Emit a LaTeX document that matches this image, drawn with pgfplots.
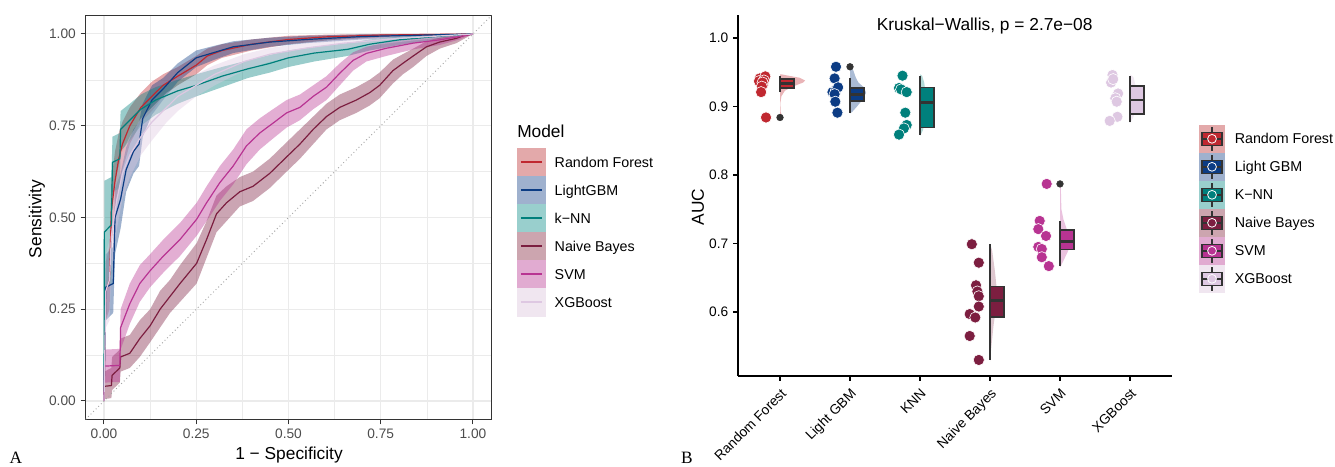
\documentclass[border=0pt]{standalone}
\usepackage{pgfplots}
\usepackage{pgfplotstable}
\pgfplotsset{compat=1.18}
\usepgfplotslibrary{fillbetween}
\usepackage{fontspec}
\setmainfont{Liberation Sans}
\newfontfamily\serifA{Liberation Serif}

\definecolor{rfC}{RGB}{192,40,48}
\definecolor{lgC}{RGB}{12,60,132}
\definecolor{knC}{RGB}{0,128,124}
\definecolor{nbC}{RGB}{124,30,64}
\definecolor{svC}{RGB}{184,52,146}
\definecolor{xgC}{RGB}{222,200,226}
\definecolor{rfF}{RGB}{227,169,170}
\definecolor{lgF}{RGB}{159,177,206}
\definecolor{knF}{RGB}{153,207,205}
\definecolor{nbF}{RGB}{204,165,175}
\definecolor{svF}{RGB}{225,171,209}
\definecolor{xgF}{RGB}{240,230,240}
\definecolor{dk}{RGB}{51,51,51}
\definecolor{g30}{RGB}{77,77,77}
\definecolor{gridc}{RGB}{235,235,235}

\newcommand\tk{\fontsize{10.3}{12}\selectfont}
\newcommand\lgd{\fontsize{10.7}{12}\selectfont}
\newcommand\ttl{\fontsize{13}{15}\selectfont}

\pgfplotsset{
 rockey/.style 2 args={legend image code/.code={
   \fill[#1] (0pt,-10.3pt) rectangle (21pt,10.3pt);
   \draw[#2,line width=1.5pt] (2.5pt,0pt) -- (18.5pt,0pt);}},
 boxkey/.style 2 args={legend image code/.code={
   \fill[#1] (0pt,-10.3pt) rectangle (18.75pt,10.3pt);
   \draw[dk,line width=0.9pt] (9.375pt,-9pt) -- (9.375pt,9pt);
   \filldraw[fill=#2,draw=dk,line width=0.9pt] (1.9pt,-4.9pt) rectangle (16.85pt,4.9pt);
   \draw[dk,line width=1.4pt] (1.9pt,0pt) -- (16.85pt,0pt);
   \filldraw[fill=#2,draw=white,line width=0.6pt] (9.375pt,0pt) circle (3.3pt);}},
}

% ROC curves: x = 1 - specificity, y = sensitivity, lo/hi = CI band
\pgfplotstableread{
x y lo hi
0.000 0.000 0.00 0.02
0.005 0.300 0.22 0.38
0.015 0.330 0.25 0.42
0.020 0.520 0.42 0.60
0.030 0.600 0.52 0.68
0.040 0.660 0.58 0.73
0.050 0.700 0.63 0.76
0.070 0.750 0.70 0.80
0.100 0.800 0.76 0.84
0.130 0.830 0.79 0.87
0.160 0.860 0.83 0.89
0.200 0.885 0.86 0.91
0.250 0.915 0.89 0.94
0.280 0.940 0.915 0.96
0.320 0.955 0.935 0.972
0.400 0.972 0.955 0.985
0.500 0.985 0.972 0.995
0.600 0.992 0.982 0.998
0.750 0.997 0.990 1.000
1.000 1.000 1.000 1.000
}\rfT
\pgfplotstableread{
x y lo hi
0.000 0.000 0.00 0.02
0.005 0.310 0.22 0.40
0.025 0.320 0.24 0.42
0.030 0.500 0.40 0.58
0.045 0.550 0.47 0.62
0.060 0.630 0.57 0.69
0.080 0.680 0.62 0.74
0.095 0.700 0.64 0.76
0.105 0.770 0.72 0.81
0.130 0.820 0.78 0.86
0.160 0.850 0.82 0.88
0.200 0.895 0.87 0.92
0.250 0.935 0.91 0.955
0.300 0.950 0.93 0.968
0.350 0.965 0.948 0.980
0.450 0.978 0.965 0.990
0.550 0.985 0.975 0.995
0.700 0.993 0.985 0.999
1.000 1.000 1.000 1.000
}\lgT
\pgfplotstableread{
x y lo hi
0.000 0.000 0.00 0.01
0.001 0.460 0.30 0.60
0.020 0.480 0.32 0.61
0.023 0.650 0.57 0.72
0.043 0.660 0.58 0.73
0.045 0.740 0.68 0.79
0.070 0.765 0.71 0.81
0.100 0.795 0.75 0.835
0.140 0.820 0.78 0.855
0.200 0.845 0.81 0.875
0.250 0.860 0.83 0.89
0.320 0.885 0.855 0.91
0.390 0.905 0.88 0.928
0.450 0.920 0.895 0.943
0.500 0.935 0.91 0.955
0.570 0.948 0.925 0.965
0.660 0.958 0.94 0.975
0.720 0.972 0.955 0.985
0.800 0.984 0.97 0.993
0.900 0.993 0.985 0.998
1.000 1.000 1.000 1.000
}\knT
\pgfplotstableread{
x y lo hi
0.000 0.000 0.000 0.010
0.001 0.040 0.005 0.080
0.020 0.042 0.008 0.090
0.022 0.070 0.030 0.120
0.043 0.090 0.050 0.140
0.045 0.120 0.080 0.170
0.070 0.130 0.090 0.180
0.097 0.170 0.120 0.220
0.125 0.205 0.160 0.250
0.152 0.250 0.200 0.300
0.179 0.285 0.240 0.330
0.206 0.320 0.270 0.370
0.251 0.375 0.320 0.430
0.278 0.440 0.390 0.490
0.305 0.510 0.460 0.560
0.332 0.540 0.490 0.585
0.368 0.570 0.530 0.610
0.404 0.585 0.545 0.625
0.449 0.620 0.580 0.660
0.495 0.665 0.625 0.705
0.531 0.700 0.660 0.740
0.567 0.740 0.700 0.775
0.603 0.775 0.740 0.810
0.639 0.800 0.765 0.835
0.684 0.820 0.785 0.855
0.720 0.840 0.805 0.875
0.747 0.860 0.825 0.895
0.783 0.900 0.865 0.930
0.810 0.920 0.890 0.945
0.838 0.940 0.910 0.960
0.874 0.965 0.940 0.980
0.910 0.978 0.960 0.990
0.955 0.988 0.975 0.996
0.973 0.995 0.985 0.999
1.000 1.000 1.000 1.000
}\nbT
\pgfplotstableread{
x y lo hi
0.000 0.000 0.00 0.01
0.001 0.095 0.05 0.14
0.043 0.097 0.052 0.142
0.045 0.200 0.14 0.25
0.070 0.265 0.21 0.32
0.097 0.320 0.27 0.37
0.125 0.355 0.31 0.40
0.161 0.395 0.35 0.44
0.206 0.440 0.395 0.485
0.251 0.495 0.45 0.54
0.278 0.540 0.49 0.585
0.314 0.595 0.545 0.64
0.350 0.640 0.59 0.685
0.386 0.695 0.645 0.74
0.422 0.730 0.685 0.77
0.458 0.757 0.715 0.795
0.495 0.785 0.745 0.82
0.531 0.800 0.765 0.835
0.567 0.830 0.795 0.86
0.603 0.855 0.82 0.885
0.639 0.893 0.86 0.92
0.675 0.928 0.90 0.95
0.711 0.947 0.925 0.965
0.765 0.961 0.94 0.977
0.838 0.975 0.958 0.988
0.910 0.984 0.97 0.994
0.964 0.993 0.985 0.999
1.000 1.000 1.000 1.000
}\svT
\pgfplotstableread{
x y lo hi
0.000 0.000 0.00 0.02
0.005 0.300 0.20 0.40
0.015 0.330 0.22 0.44
0.020 0.450 0.36 0.54
0.035 0.550 0.47 0.62
0.050 0.620 0.55 0.68
0.070 0.670 0.61 0.72
0.100 0.720 0.67 0.77
0.130 0.760 0.71 0.80
0.170 0.800 0.76 0.84
0.200 0.830 0.79 0.86
0.250 0.860 0.83 0.89
0.300 0.890 0.86 0.915
0.380 0.925 0.90 0.945
0.450 0.945 0.925 0.962
0.550 0.962 0.945 0.976
0.650 0.975 0.96 0.986
0.800 0.988 0.978 0.995
1.000 1.000 1.000 1.000
}\xgT

\begin{document}
\begin{tikzpicture}

% ---------------- A: ROC curves ----------------
\begin{axis}[
 at={(64.16pt,35.74pt)}, anchor=south west, scale only axis,
 width=304.4pt, height=302.8pt,
 xmin=-0.05, xmax=1.05, ymin=-0.05, ymax=1.05,
 xtick={0,0.25,0.5,0.75,1}, ytick={0,0.25,0.5,0.75,1},
 minor xtick={0.125,0.375,0.625,0.875}, minor ytick={0.125,0.375,0.625,0.875},
 grid=both, major grid style={gridc, line width=0.8pt},
 minor grid style={gridc, line width=0.45pt},
 axis line style={dk, line width=0.8pt},
 tick pos=left, tick align=outside, major tick length=3.75pt, minor tick length=0pt,
 tick style={dk, line width=0.75pt},
 tick label style={font=\tk, text=g30},
 /pgf/number format/fixed, /pgf/number format/fixed zerofill,
 /pgf/number format/precision=2, /pgf/number format/assume math mode=true,
 legend style={at={(1.0629,0.6723)}, anchor=north west, draw=none, fill=none,
   inner xsep=0pt, inner ysep=0pt, row sep=0pt, column sep=6.75pt, font=\lgd,
   nodes={inner sep=0pt, text height=7.6pt, text depth=0pt}},
 legend cell align=left,
]
\addlegendimage{rockey={rfF}{rfC}}
\addlegendimage{rockey={lgF}{lgC}}
\addlegendimage{rockey={knF}{knC}}
\addlegendimage{rockey={nbF}{nbC}}
\addlegendimage{rockey={svF}{svC}}
\addlegendimage{rockey={xgF}{xgC}}

\addplot[gray!70, dotted, line width=0.7pt] coordinates {(-0.05,-0.05) (1.05,1.05)};

\addplot[draw=none, name path=rfU] table[x=x,y=hi]{\rfT};
\addplot[draw=none, name path=rfL] table[x=x,y=lo]{\rfT};
\addplot[draw=none, name path=lgU] table[x=x,y=hi]{\lgT};
\addplot[draw=none, name path=lgL] table[x=x,y=lo]{\lgT};
\addplot[draw=none, name path=knU] table[x=x,y=hi]{\knT};
\addplot[draw=none, name path=knL] table[x=x,y=lo]{\knT};
\addplot[draw=none, name path=nbU] table[x=x,y=hi]{\nbT};
\addplot[draw=none, name path=nbL] table[x=x,y=lo]{\nbT};
\addplot[draw=none, name path=svU] table[x=x,y=hi]{\svT};
\addplot[draw=none, name path=svL] table[x=x,y=lo]{\svT};
\addplot[draw=none, name path=xgU] table[x=x,y=hi]{\xgT};
\addplot[draw=none, name path=xgL] table[x=x,y=lo]{\xgT};

\addplot[fill=rfC, fill opacity=0.4, draw=none] fill between[of=rfU and rfL];
\addplot[fill=lgC, fill opacity=0.4, draw=none] fill between[of=lgU and lgL];
\addplot[fill=knC, fill opacity=0.4, draw=none] fill between[of=knU and knL];
\addplot[fill=nbC, fill opacity=0.4, draw=none] fill between[of=nbU and nbL];
\addplot[fill=svC, fill opacity=0.4, draw=none] fill between[of=svU and svL];
\addplot[fill=xgC, fill opacity=0.4, draw=none] fill between[of=xgU and xgL];

\addplot[rfC, line width=0.9pt] table[x=x,y=y]{\rfT};
\addplot[lgC, line width=0.9pt] table[x=x,y=y]{\lgT};
\addplot[knC, line width=0.9pt] table[x=x,y=y]{\knT};
\addplot[nbC, line width=0.9pt] table[x=x,y=y]{\nbT};
\addplot[svC, line width=0.9pt] table[x=x,y=y]{\svT};
\addplot[xgC, line width=0.9pt] table[x=x,y=y]{\xgT};

\legend{Random Forest, LightGBM, k−NN, Naive Bayes, SVM, XGBoost}
\end{axis}

% ---------------- B: AUC by model ----------------
\begin{axis}[
 at={(553.5pt,68.25pt)}, anchor=south west, scale only axis,
 width=325.5pt, height=270.75pt,
 xmin=0.4, xmax=6.6, ymin=0.5066, ymax=1.0336,
 axis x line*=bottom, axis y line*=left,
 axis line style={-, black, line width=1.1pt},
 xtick={1,2,3,4,5,6},
 xticklabels={Random Forest, Light GBM, KNN, Naive Bayes, SVM, XGBoost},
 ytick={0.6,0.7,0.8,0.9,1.0},
 tick align=outside, major tick length=3.75pt,
 tick style={black, line width=0.9pt},
 tick label style={font=\tk, text=black},
 xticklabel style={rotate=45, anchor=north east},
 /pgf/number format/fixed, /pgf/number format/fixed zerofill,
 /pgf/number format/precision=1, /pgf/number format/assume math mode=true,
 legend style={at={(1.0622,0.6965)}, anchor=north west, draw=none, fill=none,
   inner xsep=0pt, inner ysep=0pt, row sep=0pt, column sep=7.5pt, font=\lgd,
   nodes={inner sep=0pt, text height=7.6pt, text depth=0pt}},
 legend cell align=left,
]
\addlegendimage{boxkey={rfF}{rfC}}
\addlegendimage{boxkey={lgF}{lgC}}
\addlegendimage{boxkey={knF}{knC}}
\addlegendimage{boxkey={nbF}{nbC}}
\addlegendimage{boxkey={svF}{svC}}
\addlegendimage{boxkey={xgF}{xgC}}

% half violins
\addplot[fill=rfC, fill opacity=0.35, draw=none] coordinates {(1,0.882)(1.02,0.882)(1.03,0.886)(1.01,0.892)(1.005,0.905)(1.02,0.915)(1.07,0.923)(1.18,0.929)(1.33,0.935)(1.36,0.938)(1.28,0.942)(1.12,0.945)(1.02,0.947)(1,0.947)} -- cycle;
\addplot[fill=lgC, fill opacity=0.35, draw=none] coordinates {(2,0.89)(2.03,0.892)(2.10,0.90)(2.18,0.91)(2.23,0.92)(2.2,0.928)(2.12,0.935)(2.08,0.943)(2.05,0.952)(2.02,0.958)(2,0.96)} -- cycle;
\addplot[fill=knC, fill opacity=0.3, draw=none] coordinates {(3,0.857)(3.04,0.865)(3.08,0.88)(3.07,0.9)(3.08,0.92)(3.06,0.935)(3.03,0.945)(3,0.947)} -- cycle;
\addplot[fill=nbC, fill opacity=0.25, draw=none] coordinates {(4,0.528)(4.02,0.55)(4.05,0.58)(4.09,0.61)(4.1,0.63)(4.07,0.66)(4.03,0.69)(4,0.70)} -- cycle;
\addplot[fill=svC, fill opacity=0.3, draw=none] coordinates {(5,0.665)(5.05,0.675)(5.12,0.69)(5.13,0.705)(5.1,0.72)(5.05,0.735)(5.02,0.75)(5.015,0.77)(5.01,0.787)(5,0.79)} -- cycle;
\addplot[fill=xgC, fill opacity=0.4, draw=none] coordinates {(6,0.875)(6.05,0.885)(6.08,0.9)(6.07,0.915)(6.08,0.93)(6.05,0.943)(6,0.947)} -- cycle;

% whiskers
\addplot[dk, line width=1.1pt] coordinates {(1,0.921)(1,0.944)};
\addplot[dk, line width=1.1pt] coordinates {(2,0.891)(2,0.941)};
\addplot[dk, line width=1.1pt] coordinates {(3,0.859)(3,0.945)};
\addplot[dk, line width=1.1pt] coordinates {(4,0.530)(4,0.699)};
\addplot[dk, line width=1.1pt] coordinates {(5,0.667)(5,0.733)};
\addplot[dk, line width=1.1pt] coordinates {(6,0.877)(6,0.945)};

% boxes (q1, q3)
\addplot[fill=rfC, draw=dk, line width=1.1pt] coordinates {(1,0.927)(1.2,0.927)(1.2,0.940)(1,0.940)} -- cycle;
\addplot[fill=lgC, draw=dk, line width=1.1pt] coordinates {(2,0.908)(2.2,0.908)(2.2,0.927)(2,0.927)} -- cycle;
\addplot[fill=knC, draw=dk, line width=1.1pt] coordinates {(3,0.869)(3.2,0.869)(3.2,0.928)(3,0.928)} -- cycle;
\addplot[fill=nbC, draw=dk, line width=1.1pt] coordinates {(4,0.593)(4.2,0.593)(4.2,0.637)(4,0.637)} -- cycle;
\addplot[fill=svC, draw=dk, line width=1.1pt] coordinates {(5,0.691)(5.2,0.691)(5.2,0.720)(5,0.720)} -- cycle;
\addplot[fill=xgC, draw=dk, line width=1.1pt] coordinates {(6,0.889)(6.2,0.889)(6.2,0.930)(6,0.930)} -- cycle;

% medians
\addplot[dk, line width=2.2pt] coordinates {(1,0.933)(1.2,0.933)};
\addplot[dk, line width=2.2pt] coordinates {(2,0.917)(2.2,0.917)};
\addplot[dk, line width=2.2pt] coordinates {(3,0.906)(3.2,0.906)};
\addplot[dk, line width=2.2pt] coordinates {(4,0.6165)(4.2,0.6165)};
\addplot[dk, line width=2.2pt] coordinates {(5,0.7036)(5.2,0.7036)};
\addplot[dk, line width=2.2pt] coordinates {(6,0.9095)(6.2,0.9095)};

% outliers
\addplot[only marks, mark=*, mark size=2.5pt, dk] coordinates {(1,0.884)(2,0.958)(5,0.787)};

% fold AUCs
\addplot[only marks, mark=*, mark size=4.2pt, mark options={fill=rfC, draw=white, line width=0.45pt}] coordinates {
 (0.71,0.941)(0.79,0.944)(0.70,0.937)(0.77,0.938)(0.76,0.933)(0.75,0.935)(0.74,0.929)(0.73,0.921)(0.80,0.884)};
\addplot[only marks, mark=*, mark size=4.2pt, mark options={fill=lgC, draw=white, line width=0.45pt}] coordinates {
 (1.80,0.958)(1.78,0.941)(1.75,0.921)(1.80,0.924)(1.83,0.928)(1.78,0.918)(1.79,0.907)(1.82,0.891)};
\addplot[only marks, mark=*, mark size=4.2pt, mark options={fill=knC, draw=white, line width=0.45pt}] coordinates {
 (2.75,0.945)(2.70,0.927)(2.73,0.925)(2.81,0.921)(2.79,0.891)(2.81,0.873)(2.77,0.868)(2.70,0.859)};
\addplot[only marks, mark=*, mark size=4.2pt, mark options={fill=nbC, draw=white, line width=0.45pt}] coordinates {
 (3.74,0.699)(3.84,0.672)(3.80,0.639)(3.82,0.630)(3.84,0.623)(3.84,0.608)(3.71,0.597)(3.79,0.592)(3.71,0.565)(3.84,0.530)};
\addplot[only marks, mark=*, mark size=4.2pt, mark options={fill=svC, draw=white, line width=0.45pt}] coordinates {
 (4.81,0.787)(4.71,0.733)(4.69,0.721)(4.80,0.711)(4.69,0.695)(4.74,0.692)(4.74,0.680)(4.84,0.667)};
\addplot[only marks, mark=*, mark size=4.2pt, mark options={fill=xgC, draw=white, line width=0.45pt}] coordinates {
 (5.75,0.946)(5.73,0.935)(5.76,0.940)(5.83,0.919)(5.79,0.912)(5.81,0.907)(5.82,0.885)(5.71,0.879)};

\legend{Random Forest, Light GBM, K−NN, Naive Bayes, SVM, XGBoost}
\end{axis}

% titles and labels (pixel-like coordinates of the reference)
\begin{scope}[x=0.75pt, y=-0.75pt, yshift=350.25pt, every node/.style={inner sep=0pt}]
 \node[rotate=90, font=\ttl] at (37,219) {Sensitivity};
 \node[font=\ttl] at (289,455) {1 − Specificity};
 \node[font=\ttl, anchor=west] at (517,131.7) {Model};
 \node[font=\ttl] at (984.7,26) {Kruskal−Wallis, p = 2.7e−08};
 \node[rotate=90, font=\ttl] at (698,207) {AUC};
 \node[font=\serifA\fontsize{13}{15}\selectfont] at (16,458) {A};
 \node[font=\serifA\fontsize{13}{15}\selectfont] at (687,458) {B};
\end{scope}
\pgfresetboundingbox
\path[use as bounding box] (0,0) rectangle (1001.25pt,350.25pt);
\end{tikzpicture}
\end{document}
